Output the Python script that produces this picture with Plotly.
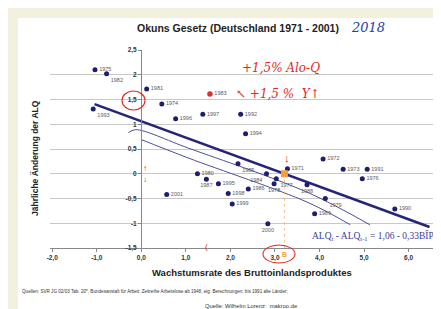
import plotly.graph_objects as go

# ---------------- data ----------------
years = ["1975", "1982", "1981", "1974", "1993", "1996", "1997", "1992", "1994",
         "1985", "1980", "1987", "1995", "1984", "1977", "1978", "1971", "1986",
         "1998", "1999", "1988", "1972", "1973", "1991", "1976", "1979", "1989",
         "1990", "2000", "2001"]
gdp = [-1.04, -0.78, 0.12, 0.46, -1.08, 0.77, 1.38, 2.23, 2.34,
       2.17, 1.26, 1.46, 1.73, 2.81, 3.03, 2.98, 3.28, 2.40,
       1.95, 2.04, 3.72, 4.08, 4.53, 5.07, 4.96, 4.13, 3.89,
       5.69, 2.84, 0.57]
d_alq = [2.10, 2.02, 1.71, 1.41, 1.31, 1.11, 1.20, 1.20, 0.81,
         0.20, 0.00, -0.11, -0.20, 0.00, -0.10, -0.20, 0.10, -0.31,
         -0.40, -0.61, -0.22, 0.30, 0.09, 0.09, -0.10, -0.50, -0.81,
         -0.71, -1.01, -0.42]
label_pos = ["middle right", "bottom right", "middle right", "middle right", "bottom right",
             "middle right", "middle right", "middle right", "middle right",
             "bottom right", "middle right", "bottom center", "middle right", "bottom left",
             "bottom right", "bottom center", "middle right", "middle right",
             "middle right", "middle right", "bottom center", "middle right", "middle right",
             "middle right", "middle right", "bottom right", "middle right",
             "middle right", "bottom center", "middle right"]

red_year = ["1983"]
red_gdp = [1.54]
red_alq = [1.61]

intercept = 1.06
slope = -0.33
reg_x = [-1.05, 6.47]
reg_y = [intercept + slope * v for v in reg_x]

b_x = [-intercept / slope]   # break-even growth (2018 point)
b_y = [0.0]

hand1_x = [-0.29, -0.13, 1.05, 3.74, 5.13]
hand1_y = [0.83, 0.89, 0.52, -0.38, -1.03]
hand2_x = [0.0, 1.05, 3.74, 4.69]
hand2_y = [0.69, 0.32, -0.58, -1.03]

x_ticks = [-2, -1, 0, 1, 2, 3, 4, 5, 6, 7]
x_ticktext = ["-2,0", "-1,0", "0,0", "1,0", "2,0", "3,0", "4,0", "5,0", "6,0", "7,0"]
y_ticks = [2.5, 2, 1.5, 1, 0.5, 0, -0.5, -1, -1.5]
y_ticktext = ["2,5", "2", "1,5", "1", "0,5", "0", "-0,5", "-1", "-1,5"]

# ---------------- geometry helpers ----------------
W, H = 441, 309
ML, MR, MT, MB = 42, 0, 42, 69
PW, PH = W - ML - MR, H - MT - MB


def P(px, py):
    return (px - ML) / PW, (H - MB - py) / PH


navy = "#1e1e6e"
FONT = "Liberation Sans"

fig = go.Figure()

fig.add_trace(go.Scatter(x=hand1_x, y=hand1_y, mode="lines",
                         line=dict(color="#3a3a8c", width=0.9, shape="spline"),
                         hoverinfo="skip", showlegend=False))
fig.add_trace(go.Scatter(x=hand2_x, y=hand2_y, mode="lines",
                         line=dict(color="#3a3a8c", width=0.9, shape="spline"),
                         hoverinfo="skip", showlegend=False))
fig.add_trace(go.Scatter(x=reg_x, y=reg_y, mode="lines",
                         line=dict(color="#24247a", width=2.6),
                         showlegend=False))
fig.add_trace(go.Scatter(x=gdp, y=d_alq, mode="markers+text", text=years,
                         textposition=label_pos,
                         textfont=dict(size=5.5, color="#5a5a5a", family=FONT),
                         marker=dict(color=navy, size=5),
                         showlegend=False))
fig.add_trace(go.Scatter(x=red_gdp, y=red_alq, mode="markers+text", text=red_year,
                         textposition="middle right",
                         textfont=dict(size=5.5, color="#5a5a5a", family=FONT),
                         marker=dict(color="#d83030", size=5.5),
                         showlegend=False))
fig.add_trace(go.Scatter(x=[b_x[0], b_x[0]], y=[b_y[0], -1.5], mode="lines",
                         line=dict(color="#f0b070", width=0.8, dash="dot"),
                         showlegend=False))
fig.add_trace(go.Scatter(x=b_x, y=b_y, mode="markers",
                         marker=dict(color="#f0a040", size=7, symbol="square"),
                         showlegend=False))

shapes = []
# cream page + white slide
x0, y0 = P(10, 10)
x1, y1 = P(W, H)
shapes.append(dict(type="rect", xref="paper", yref="paper", x0=x0, y0=y1, x1=x1, y1=y0,
                   fillcolor="white", line=dict(width=0), layer="below"))
# red circles
for (a, b, c, d) in [(114, 83, 137, 102), (255, 237, 287, 255)]:
    xa, ya = P(a, b)
    xb, yb = P(c, d)
    shapes.append(dict(type="circle", xref="paper", yref="paper", x0=xa, y0=yb, x1=xb, y1=ya,
                       line=dict(color="#e02828", width=1.1)))

ann = []


def txt(px, py, s, size, color="#222222", family=FONT, xanchor="center", bold=False, angle=0):
    x, y = P(px, py)
    if bold:
        s = "<b>" + s + "</b>"
    ann.append(dict(x=x, y=y, xref="paper", yref="paper", text=s, showarrow=False,
                    xanchor=xanchor, yanchor="middle", textangle=angle,
                    font=dict(size=size, color=color, family=family)))


txt(230, 20, "Okuns Gesetz (Deutschland 1971 - 2001)", 10.5, bold=True)
txt(360, 19, "<i>2018</i>", 13, color="#2c3ca8", family="DejaVu Serif")
txt(27, 150, "Jährliche Änderung der ALQ", 8.5, bold=True, angle=-90)
txt(244, 264, "Wachstumsrate des Bruttoinlandsproduktes", 9.5, bold=True)
txt(12, 283, "Quellen: SVR JG 02/03 Tab. 20*, Bundesanstalt für Arbeit; Zeitreihe Arbeitslose ab 1948, "
             "eig. Berechnungen; bis 1991 alte Länder;", 4.6, color="#333333", xanchor="left")
txt(243, 298, "Quelle: Wilhelm Lorenz:  makroo.de", 5.8, color="#333333")
txt(302, 228, "ALQ<sub>t</sub> - ALQ<sub>t-1</sub> = 1,06 - 0,33BÎP", 9.5,
    color="#3b3b9b", family="Liberation Serif", xanchor="left")
# handwriting
txt(232, 60, "<i>+1,5% Alo-Q</i>", 12, color="#e02828", family="DejaVu Serif", xanchor="left")
txt(226, 86, "<i>↖ +1,5 %  Y↑</i>", 12, color="#e02828", family="DejaVu Serif", xanchor="left")
txt(137, 160, "↑", 8, color="#e02828")
txt(137, 171, "↓", 8, color="#e02828")
txt(198, 238, "(", 8, color="#e02828")
txt(279, 150, "↓", 11, color="#e02828")
txt(276, 246, "B", 7, color="#f0a040", bold=True)

fig.update_layout(
    width=W, height=H,
    margin=dict(l=ML, r=MR, t=MT, b=MB),
    paper_bgcolor="#f3f0df",
    plot_bgcolor="rgba(0,0,0,0)",
    shapes=shapes,
    annotations=ann,
    showlegend=False,
    font=dict(family=FONT),
    xaxis=dict(range=[-2.05, -2.05 + PW / 44.55], tickvals=x_ticks,
               ticktext=["<b>" + t + "</b>" for t in x_ticktext],
               showgrid=False, zeroline=False, showline=True, linecolor="#888888", linewidth=1,
               ticks="outside", ticklen=3, tickcolor="#888888",
               tickfont=dict(size=6.5, color="#333333", family=FONT)),
    yaxis=dict(range=[-1.5, 2.5], tickvals=y_ticks,
               ticktext=["<b>" + t + "</b>" for t in y_ticktext],
               anchor="free", position=(133 - ML) / PW,
               showgrid=True, gridcolor="#c8c8c8", gridwidth=1,
               zeroline=False, showline=True, linecolor="#888888", linewidth=1,
               ticks="outside", ticklen=3, tickcolor="#888888",
               tickfont=dict(size=6.5, color="#333333", family=FONT)),
)

fig.write_html("out.html")
